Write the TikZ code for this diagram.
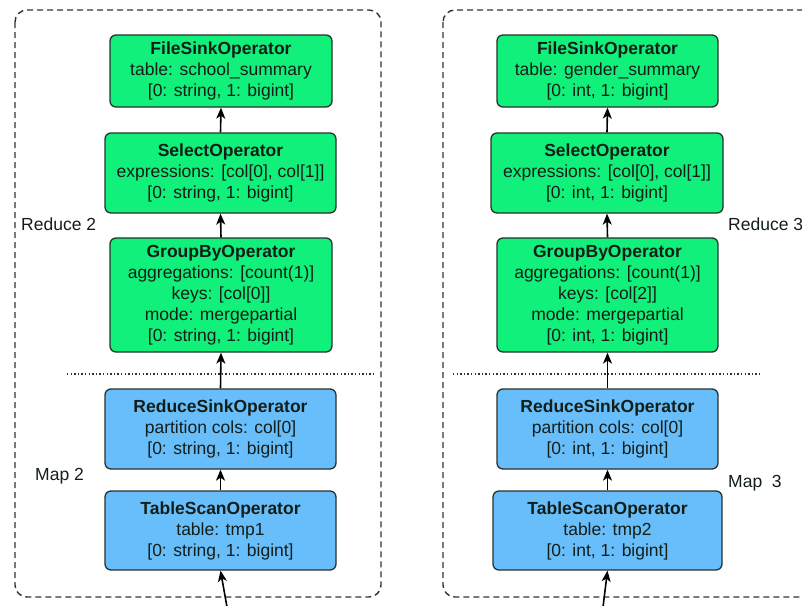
\documentclass[tikz,border=0pt]{standalone}
\usepackage{fontspec}
\setmainfont{Liberation Sans}
\usetikzlibrary{arrows.meta}
\definecolor{opgreen}{RGB}{16,240,122}
\definecolor{opblue}{RGB}{104,190,250}
\definecolor{edgec}{RGB}{40,50,45}
\definecolor{txtc}{RGB}{20,30,25}
\begin{document}
\begin{tikzpicture}[x=1pt,y=-1pt,
  opbox/.style={draw=edgec, line width=1.3pt, rounded corners=6pt, align=center,
    text=txtc, inner sep=0pt, font=\fontsize{17.5}{21}\selectfont},
  greenop/.style={opbox, fill=opgreen},
  blueop/.style={opbox, fill=opblue},
  flow/.style={-{Stealth[length=11pt,width=9pt,inset=3pt]}, line width=1.6pt, black},
  stage/.style={draw=black!80, line width=1.4pt, dash pattern=on 6pt off 4pt, rounded corners=12pt},
  divider/.style={draw=black!80, line width=1.2pt, dash pattern=on 1.4pt off 2.2pt},
  lbl/.style={anchor=west, inner sep=0pt, text=txtc, font=\fontsize{17.5}{21}\selectfont}
]
\useasboundingbox (0,0) rectangle (802,605);
\clip (0,0) rectangle (802,605);

% stage frames
\draw[stage] (15,10) rectangle (381,597);
\draw[stage] (443,10) rectangle (830,597);

% dividers
\draw[divider] (67,374) -- (375,374);
\draw[divider] (453,374) -- (760,374);

% left column
\node[greenop, minimum width=222pt, minimum height=72pt] (fs1) at (221,71)
  {\textbf{FileSinkOperator}\\table: school\_summary\\{[0: string, 1: bigint]}};
\node[greenop, minimum width=231pt, minimum height=80pt] (sel1) at (220.5,173)
  {\textbf{SelectOperator}\\expressions: [col[0], col[1]]\\{[0: string, 1: bigint]}};
\node[greenop, minimum width=222pt, minimum height=114pt] (gb1) at (221,295)
  {\textbf{GroupByOperator}\\aggregations: [count(1)]\\keys: [col[0]]\\mode: mergepartial\\{[0: string, 1: bigint]}};
\node[blueop, minimum width=231pt, minimum height=80pt] (rs1) at (220.5,429)
  {\textbf{ReduceSinkOperator}\\partition cols: col[0]\\{[0: string, 1: bigint]}};
\node[blueop, minimum width=231pt, minimum height=79pt] (ts1) at (220.5,530.5)
  {\textbf{TableScanOperator}\\table: tmp1\\{[0: string, 1: bigint]}};

% right column
\node[greenop, minimum width=221pt, minimum height=72pt] (fs2) at (607.5,71)
  {\textbf{FileSinkOperator}\\table: gender\_summary\\{[0: int, 1: bigint]}};
\node[greenop, minimum width=232pt, minimum height=80pt] (sel2) at (607,173)
  {\textbf{SelectOperator}\\expressions: [col[0], col[1]]\\{[0: int, 1: bigint]}};
\node[greenop, minimum width=221pt, minimum height=114pt] (gb2) at (607.5,295)
  {\textbf{GroupByOperator}\\aggregations: [count(1)]\\keys: [col[2]]\\mode: mergepartial\\{[0: int, 1: bigint]}};
\node[blueop, minimum width=221pt, minimum height=80pt] (rs2) at (607.5,429)
  {\textbf{ReduceSinkOperator}\\partition cols: col[0]\\{[0: int, 1: bigint]}};
\node[blueop, minimum width=229pt, minimum height=79pt] (ts2) at (607.5,530.5)
  {\textbf{TableScanOperator}\\table: tmp2\\{[0: int, 1: bigint]}};

% connectors
\draw[flow] (sel1.north) -- (fs1.south);
\draw[flow] (gb1.north) -- (sel1.south);
\draw[flow] (rs1.north) -- (gb1.south);
\draw[flow] (ts1.north) -- (rs1.south);
\coordinate (in1) at (227,607);
\draw[flow] (in1) -- (ts1.south);

\draw[flow] (sel2.north) -- (fs2.south);
\draw[flow] (gb2.north) -- (sel2.south);
\draw[flow] (rs2.north) -- (gb2.south);
\draw[flow] (ts2.north) -- (rs2.south);
\coordinate (in2) at (603,607);
\draw[flow] (in2) -- (ts2.south);

% stage labels
\node[lbl] (r2) at (21,224) {Reduce 2};
\node[lbl] (m2) at (35,476) {Map 2};
\node[lbl] (r3) at (728,224) {Reduce 3};
\node[lbl] (m3) at (728,483) {Map\ \ 3};
\end{tikzpicture}
\end{document}
